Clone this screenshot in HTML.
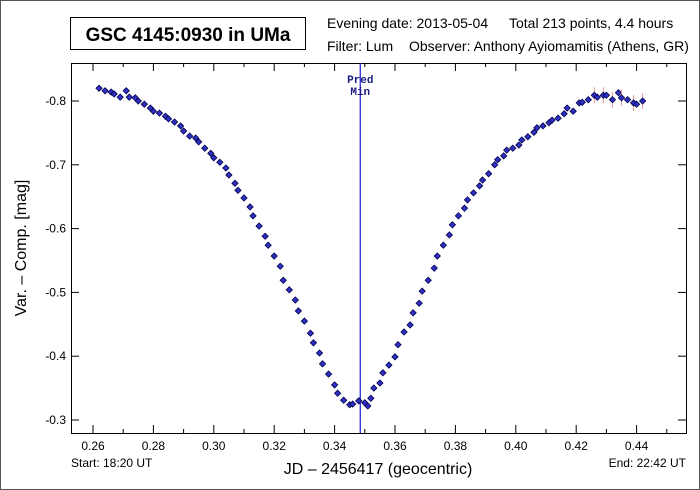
<!DOCTYPE html>
<html><head><meta charset="utf-8"><style>
body{margin:0;background:#fff;font-family:"Liberation Sans",Arial,sans-serif}
svg{display:block}
</style></head><body>
<svg id="c" width="700" height="490" xmlns="http://www.w3.org/2000/svg">
<rect x="0.5" y="0.5" width="699" height="489" fill="#fff" stroke="#555"/>
<rect x="70.5" y="17.5" width="235" height="32" fill="#fff" stroke="#000"/>
<text x="188" y="41" text-anchor="middle" font-size="19" font-weight="bold" fill="#000">GSC 4145:0930 in UMa</text>
<text x="327" y="28" font-size="14" fill="#000">Evening date: 2013-05-04</text>
<text x="509" y="28" font-size="14" fill="#000">Total 213 points, 4.4 hours</text>
<text x="327" y="51" font-size="14" fill="#000">Filter: Lum</text>
<text x="409" y="51" font-size="14" fill="#000">Observer: Anthony Ayiomamitis (Athens, GR)</text>
<text x="71" y="467" font-size="12" fill="#000">Start: 18:20 UT</text>
<text x="686" y="467" text-anchor="end" font-size="12" fill="#000">End: 22:42 UT</text>
<text x="378" y="474" text-anchor="middle" font-size="16" fill="#000">JD – 2456417  (geocentric)</text>
<text transform="translate(26,248) rotate(-90)" text-anchor="middle" font-size="16" fill="#000">Var. – Comp. [mag]</text>
<g id="plot"></g>
</svg>
<script>
const xTicks=[0.26,0.28,0.30,0.32,0.34,0.36,0.38,0.40,0.42,0.44];
const xTickLabels=["0.26","0.28","0.30","0.32","0.34","0.36","0.38","0.40","0.42","0.44"];
const yTicks=[-0.8,-0.7,-0.6,-0.5,-0.4,-0.3];
const yTickLabels=["-0.8","-0.7","-0.6","-0.5","-0.4","-0.3"];
const predMin=0.3485;
const jd=[0.262,0.264,0.266,0.267,0.269,0.271,0.272,0.274,0.275,0.277,0.279,0.280,0.282,0.284,0.285,0.287,0.289,0.290,0.292,0.294,0.295,0.297,0.299,0.300,0.302,0.304,0.305,0.307,0.308,0.310,0.312,0.313,0.315,0.317,0.318,0.320,0.322,0.323,0.325,0.327,0.328,0.330,0.332,0.333,0.335,0.336,0.338,0.340,0.341,0.343,0.345,0.346,0.348,0.350,0.351,0.352,0.353,0.355,0.356,0.358,0.360,0.361,0.363,0.365,0.366,0.368,0.369,0.371,0.373,0.374,0.376,0.378,0.379,0.381,0.383,0.384,0.386,0.388,0.389,0.391,0.393,0.394,0.396,0.397,0.399,0.401,0.402,0.404,0.406,0.407,0.409,0.411,0.412,0.414,0.416,0.417,0.419,0.421,0.422,0.424,0.426,0.427,0.429,0.430,0.432,0.434,0.435,0.437,0.439,0.440,0.442];
const mag=[-0.820,-0.816,-0.814,-0.811,-0.806,-0.816,-0.806,-0.805,-0.800,-0.795,-0.789,-0.784,-0.781,-0.776,-0.772,-0.767,-0.761,-0.753,-0.745,-0.742,-0.736,-0.726,-0.718,-0.711,-0.704,-0.695,-0.684,-0.671,-0.660,-0.648,-0.634,-0.620,-0.604,-0.588,-0.574,-0.557,-0.541,-0.519,-0.504,-0.488,-0.471,-0.455,-0.436,-0.421,-0.405,-0.388,-0.372,-0.355,-0.342,-0.331,-0.324,-0.325,-0.330,-0.327,-0.322,-0.334,-0.350,-0.358,-0.374,-0.386,-0.399,-0.418,-0.438,-0.449,-0.468,-0.483,-0.502,-0.519,-0.538,-0.557,-0.574,-0.590,-0.606,-0.620,-0.632,-0.645,-0.656,-0.667,-0.676,-0.686,-0.700,-0.708,-0.714,-0.723,-0.726,-0.731,-0.739,-0.744,-0.751,-0.758,-0.761,-0.766,-0.770,-0.773,-0.780,-0.789,-0.784,-0.797,-0.798,-0.802,-0.809,-0.806,-0.809,-0.809,-0.802,-0.813,-0.805,-0.802,-0.797,-0.795,-0.800];
const L=71,R=686,T=63,B=433;
const X0=0.26,PX0=93,PXS=30.2;
const x=v=>PX0+(v-X0)/0.01*PXS;
const y=v=>101+(v+0.8)/0.1*63.8;
const NS="http://www.w3.org/2000/svg";
const g=document.getElementById('plot');
function mk(t,a){const e=document.createElementNS(NS,t);for(const k in a)e.setAttribute(k,a[k]);g.appendChild(e);return e;}
let fr=mk('rect',{x:L+0.5,y:T+0.5,width:R-L,height:B-T,fill:'none',stroke:'#000'});


xTicks.forEach((v,i)=>{
 const px=x(v);
 [[B,B-8],[T,T+8]].forEach(p=>{const t=mk('line',{x1:px,x2:px,y1:p[0],y2:p[1],stroke:'#000'});
 
 });
 const mx=x(v+0.01);
 if(mx<R)[[B,B-4],[T,T+4]].forEach(p=>{const t=mk('line',{x1:mx,x2:mx,y1:p[0],y2:p[1],stroke:'#000'});
 
 });
 const tl=mk('text',{x:px,y:B+17,'text-anchor':'middle','font-size':12,fill:'#000'});tl.textContent=xTickLabels[i];
 
 
});
yTicks.forEach((v,i)=>{
 const py=y(v);
 [[L,L+8],[R,R-8]].forEach(p=>{const t=mk('line',{x1:p[0],x2:p[1],y1:py,y2:py,stroke:'#000'});
 
 });
 const tl=mk('text',{x:L-5,y:py+4,'text-anchor':'end','font-size':12,fill:'#000'});tl.textContent=yTickLabels[i];
 
 
});
const pm=mk('line',{x1:x(predMin),x2:x(predMin),y1:T,y2:B,stroke:'#2a2ad0','stroke-width':1.3});


['Pred','Min'].forEach((s,i)=>{const t=mk('text',{x:x(predMin),y:T+20+i*12,'text-anchor':'middle','font-size':11,'font-family':'Liberation Mono, monospace','font-weight':'bold',fill:'#1a1a80'});t.textContent=s;
 
 });
jd.forEach((v,i)=>{
 const cx=x(v),cy=y(mag[i]);
 if(v>0.424 && i%2===0){const eb=mk('line',{x1:cx,x2:cx,y1:cy-8,y2:cy+8,stroke:'#e99','stroke-width':1});
 
 }
 const p=mk('rect',{x:cx-2.2,y:cy-2.2,width:4.4,height:4.4,fill:'#3030c0',stroke:'#000050','stroke-width':0.8,transform:`rotate(45 ${cx} ${cy})`});
 
 
});
</script>
</body></html>
